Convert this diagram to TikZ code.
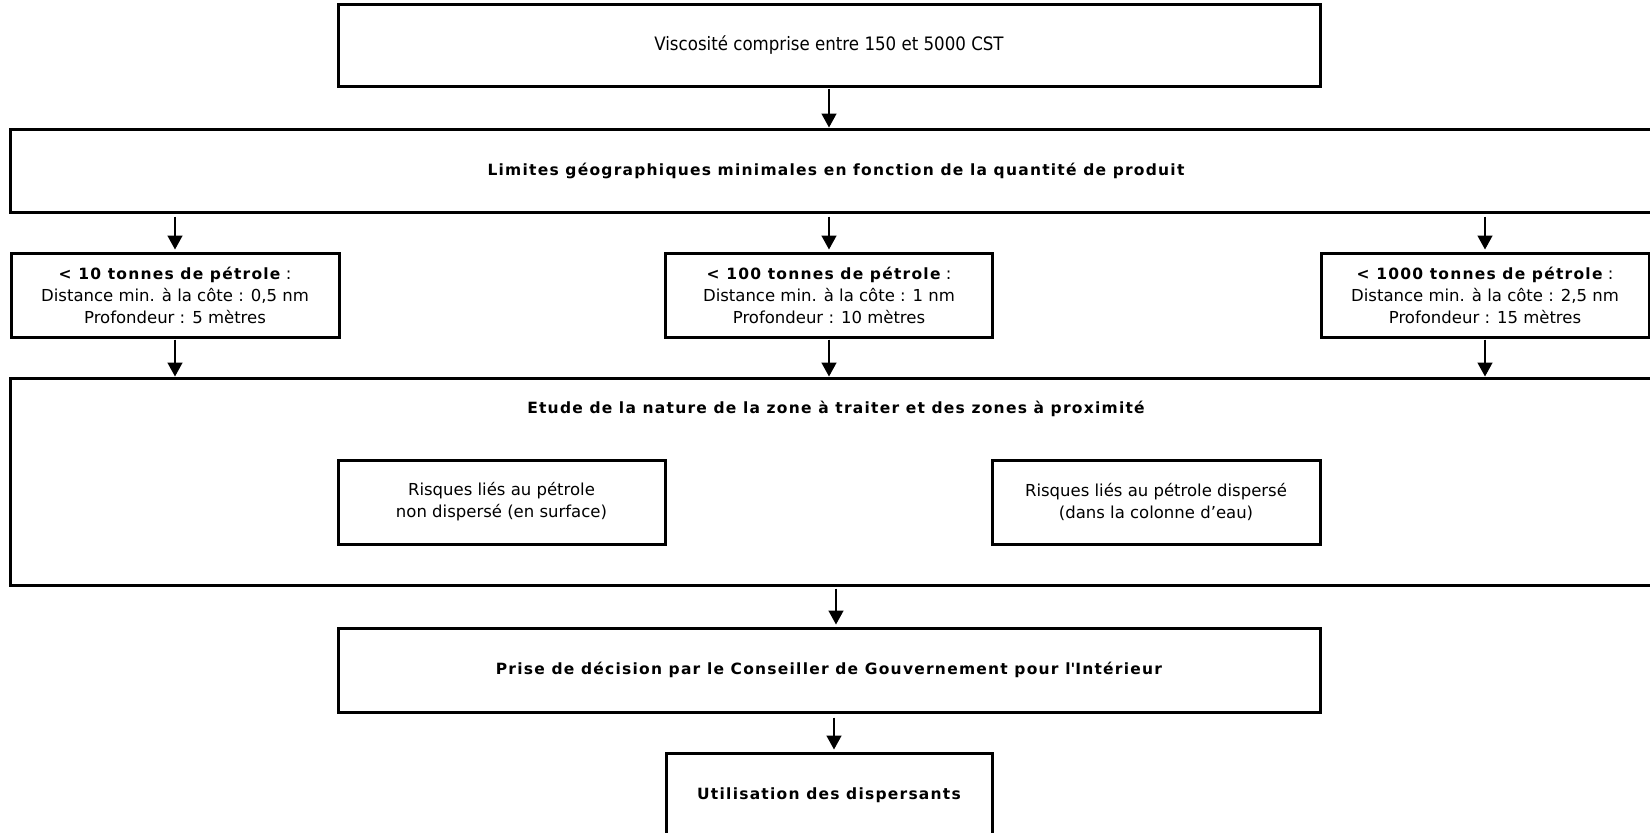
\documentclass[tikz,border=0pt]{standalone}
\usepackage{fontspec}
\setmainfont{DejaVu Sans}
\newfontfamily\condfont{DejaVu Sans}[FakeStretch=0.9]
\usetikzlibrary{arrows.meta}
\newcommand\gras[1]{{\fontsize{15.5}{22}\bfseries\addfontfeatures{LetterSpace=8}#1}}

\begin{document}
\begin{tikzpicture}[x=1pt,y=-1pt,
  boite/.style={draw,line width=3pt,inner sep=0pt,align=center,
    font=\fontsize{16.5}{22}\selectfont},
  fleche/.style={line width=1.5pt,-{Triangle[width=15pt,length=14pt]}}]
\clip (0,0) rectangle (1650,833);
\fill[white] (0,0) rectangle (1650,833);
% niveau 1
\node[boite,minimum width=982,minimum height=82] (viscosite) at (829,45)
  {\condfont\fontsize{18.5}{22}\selectfont Viscosité comprise entre 150 et 5000 CST};
\node[boite,minimum width=1651,minimum height=83] (limites) at (836,170.5)
  {\gras{Limites géographiques minimales en fonction de la quantité de produit}};
% quantites
\node[boite,minimum width=328,minimum height=84] (dix) at (175,295)
  {\gras{< 10 tonnes de pétrole} :\\Distance min. à la côte : 0,5 nm\\Profondeur : 5 mètres};
\node[boite,minimum width=327,minimum height=84] (cent) at (829,295)
  {\gras{< 100 tonnes de pétrole} :\\Distance min. à la côte : 1 nm\\Profondeur : 10 mètres};
\node[boite,minimum width=328,minimum height=84] (mille) at (1485,295)
  {\gras{< 1000 tonnes de pétrole} :\\Distance min. à la côte : 2,5 nm\\Profondeur : 15 mètres};
% etude
\node[boite,minimum width=1651,minimum height=207] (etude) at (836,481.5) {};
\node[inner sep=0pt] (etudeTitre) at (836,409)
  {\gras{Etude de la nature de la zone à traiter et des zones à proximité}};
\node[boite,minimum width=327,minimum height=84] (surface) at (501.5,502)
  {Risques liés au pétrole\\non dispersé (en surface)};
\node[boite,minimum width=328,minimum height=84] (disperse) at (1156,502)
  {Risques liés au pétrole dispersé\\(dans la colonne d’eau)};
% decision
\node[boite,minimum width=982,minimum height=84] (prise) at (829,670)
  {\gras{Prise de décision par le Conseiller de Gouvernement pour l\textquotesingle Intérieur}};
\node[boite,minimum width=326,minimum height=84] (utilisation) at (829,795)
  {\gras{Utilisation des dispersants}};
% fleches
\draw[fleche,shorten <=1pt] (viscosite.south) -- (viscosite.south |- limites.north);
\foreach \b in {dix,cent,mille}{
  \draw[fleche,shorten <=3pt,shorten >=2pt] (limites.south -| \b) -- (\b);
  \draw[fleche,shorten <=1pt] (\b) -- (etude.north -| \b);
}
\draw[fleche,shorten <=2pt,shorten >=2pt] (etude.south) -- (etude.south |- prise.north);
\draw[fleche,shorten <=4pt,shorten >=2pt] ([xshift=5pt]prise.south) -- ([xshift=5pt]utilisation.north);
\end{tikzpicture}
\end{document}
